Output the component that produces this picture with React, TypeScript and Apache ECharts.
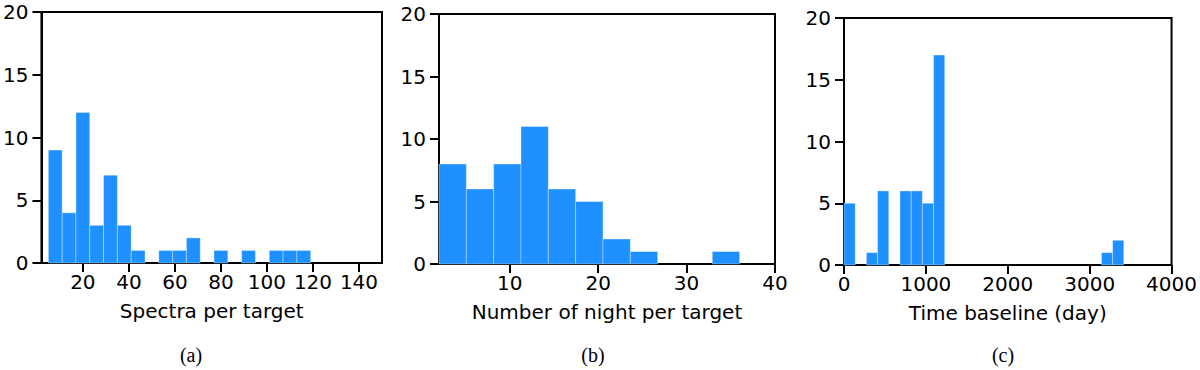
import React, { useEffect, useRef } from "react";
import * as echarts from "echarts";

// Panel (a): Spectra per target
const spectraBinStart = 5;
const spectraBinEnd = 119;
const spectraCounts = [9, 4, 12, 3, 7, 3, 1, 0, 1, 1, 2, 0, 1, 0, 1, 0, 1, 1, 1];
const spectraTicks = [20, 40, 60, 80, 100, 120, 140];

// Panel (b): Number of night per target
const nightBinStart = 2;
const nightBinEnd = 36;
const nightCounts = [8, 6, 8, 11, 6, 5, 2, 1, 0, 0, 1];
const nightTicks = [10, 20, 30, 40];

// Panel (c): Time baseline (day)
const baseBinStart = 0;
const baseBinEnd = 3417;
const baseCounts = [5, 0, 1, 6, 0, 6, 6, 5, 17, 0, 0, 0, 0, 0, 0, 0, 0, 0, 0, 0, 0, 0, 0, 1, 2];

const yTicks = [0, 5, 10, 15, 20];
const captions = ["(a)", "(b)", "(c)"];
const xTitles = ["Spectra per target", "Number of night per target", "Time baseline (day)"];

function binData(start: number, end: number, counts: number[]) {
  const w = (end - start) / counts.length;
  const out: number[][] = [];
  counts.forEach((c, i) => {
    if (c > 0) out.push([start + i * w, start + (i + 1) * w, c]);
  });
  return out;
}

const FONT = "DejaVu Sans";
const FS = 20;
const BLUE = "#1E90FF";

export default function App() {
  const ref = useRef<HTMLDivElement>(null);
  useEffect(() => {
    if (!ref.current) return;
    const chart = echarts.init(ref.current, null, { renderer: "svg" });

    const grids = [
      { left: 40, top: 12, width: 342, height: 251 },
      { left: 439, top: 14, width: 336, height: 250 },
      { left: 844, top: 18, width: 332, height: 247 },
    ];

    const axisCommon = {
      axisLine: { show: true, lineStyle: { color: "#000", width: 2 } },
      axisTick: { show: true, inside: false, length: 9, lineStyle: { color: "#000", width: 2 } },
      splitLine: { show: false },
    };
    const labelStyle = { fontFamily: FONT, fontSize: FS, color: "#000" };
    const nameStyle = { fontFamily: FONT, fontSize: FS, color: "#000" };
    const plain = (v: number) => String(v);

    const xAxes = [
      {
        gridIndex: 0, type: "value", min: 2, max: 150,
        ...axisCommon,
        axisTick: { ...axisCommon.axisTick, customValues: spectraTicks },
        axisLabel: { ...labelStyle, customValues: spectraTicks, margin: 9, formatter: plain },
        name: xTitles[0], nameLocation: "middle", nameGap: 38, nameTextStyle: nameStyle,
      },
      {
        gridIndex: 1, type: "value", min: 2, max: 40,
        ...axisCommon,
        axisTick: { ...axisCommon.axisTick, customValues: nightTicks },
        axisLabel: { ...labelStyle, customValues: nightTicks, margin: 9, formatter: plain },
        name: xTitles[1], nameLocation: "middle", nameGap: 38, nameTextStyle: nameStyle,
      },
      {
        gridIndex: 2, type: "value", min: 0, max: 4000, interval: 1000,
        ...axisCommon,
        axisLabel: { ...labelStyle, margin: 9, formatter: plain },
        name: xTitles[2], nameLocation: "middle", nameGap: 38, nameTextStyle: nameStyle,
      },
    ];

    const yAxes = [0, 1, 2].map((g) => ({
      gridIndex: g, type: "value", min: 0, max: 20, interval: 5,
      ...axisCommon,
      axisTick: { ...axisCommon.axisTick, customValues: yTicks },
      axisLabel: { ...labelStyle, lineHeight: 16, customValues: yTicks, margin: 13, formatter: plain },
    }));

    const renderItem = (params: any, api: any) => {
      const p0 = api.coord([api.value(0), api.value(2)]);
      const p1 = api.coord([api.value(1), 0]);
      return {
        type: "rect",
        shape: { x: p0[0], y: p0[1], width: p1[0] - p0[0], height: p1[1] - p0[1] },
        style: { fill: BLUE, stroke: "rgba(255,255,255,0.35)", lineWidth: 1 },
      };
    };

    const datasets = [
      binData(spectraBinStart, spectraBinEnd, spectraCounts),
      binData(nightBinStart, nightBinEnd, nightCounts),
      binData(baseBinStart, baseBinEnd, baseCounts),
    ];

    const series = datasets.map((d, i) => ({
      type: "custom",
      xAxisIndex: i,
      yAxisIndex: i,
      renderItem,
      encode: { x: [0, 1], y: 2 },
      data: d,
      z: 1,
    }));

    const captionX = [191, 593, 1003];
    const graphic = captions.map((c, i) => ({
      type: "text",
      x: captionX[i],
      y: 355,
      style: {
        text: c,
        fontFamily: "Liberation Serif",
        fontSize: 20,
        fill: "#000",
        align: "center",
        verticalAlign: "middle",
      },
    }));

    chart.setOption({
      animation: false,
      backgroundColor: "#fff",
      grid: grids.map((g) => ({ ...g, show: true, borderColor: "#000", borderWidth: 2, backgroundColor: "transparent" })),
      xAxis: xAxes,
      yAxis: yAxes,
      series,
      graphic,
    });
    return () => chart.dispose();
  }, []);

  return (
    <div
      ref={ref}
      style={{ position: "fixed", left: 0, top: 0, width: 1200, height: 370, background: "#fff" }}
    />
  );
}
